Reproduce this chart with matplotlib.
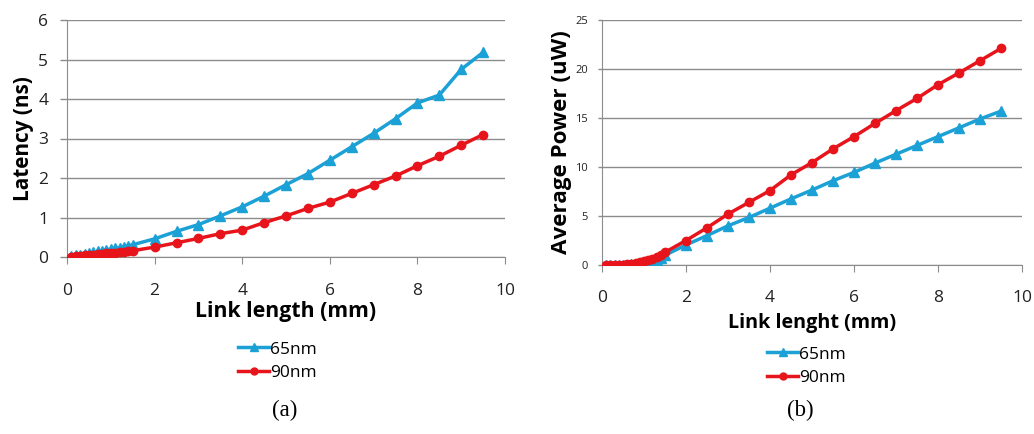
import matplotlib
matplotlib.use("Agg")
import matplotlib.pyplot as plt
from matplotlib.lines import Line2D

length = [0.1, 0.2, 0.3, 0.4, 0.5, 0.6, 0.7, 0.8, 0.9, 1.0, 1.1, 1.2, 1.3, 1.4, 1.5,
          2.0, 2.5, 3.0, 3.5, 4.0, 4.5, 5.0, 5.5, 6.0, 6.5, 7.0, 7.5, 8.0, 8.5, 9.0, 9.5]

lat_65 = [0.02, 0.04, 0.06, 0.08, 0.10, 0.12, 0.14, 0.16, 0.18, 0.20, 0.22, 0.24, 0.26, 0.28, 0.31,
          0.46, 0.65, 0.82, 1.04, 1.27, 1.54, 1.83, 2.11, 2.45, 2.79, 3.13, 3.50, 3.90, 4.10, 4.75, 5.18]
lat_90 = [0.01, 0.02, 0.03, 0.04, 0.05, 0.06, 0.07, 0.08, 0.09, 0.10, 0.11, 0.12, 0.13, 0.14, 0.16,
          0.25, 0.36, 0.47, 0.59, 0.68, 0.87, 1.04, 1.23, 1.39, 1.61, 1.83, 2.05, 2.31, 2.55, 2.83, 3.10]

pow_65 = [0.0, 0.0, 0.0, 0.0, 0.01, 0.03, 0.06, 0.10, 0.16, 0.23, 0.32, 0.43, 0.56, 0.75, 1.0,
          2.05, 3.0, 4.0, 4.85, 5.8, 6.75, 7.65, 8.6, 9.45, 10.4, 11.3, 12.2, 13.1, 14.0, 14.9, 15.7]
pow_90 = [0.05, 0.03, 0.02, 0.03, 0.05, 0.08, 0.13, 0.20, 0.30, 0.40, 0.52, 0.65, 0.80, 1.0, 1.3,
          2.5, 3.8, 5.2, 6.4, 7.6, 9.2, 10.45, 11.85, 13.1, 14.45, 15.75, 17.0, 18.4, 19.6, 20.85, 22.1]

series_labels = ["65nm", "90nm"]

BLUE = "#1BA1D6"
RED = "#E8141B"
GRID = "#8C8C8C"
FONT = ["Open Sans", "DejaVu Sans"]

fig = plt.figure(figsize=(10.34, 4.34), dpi=100)
W, H = 1034, 434


def ax_rect(x0, y0, x1, y1):
    return [x0 / W, 1 - y1 / H, (x1 - x0) / W, (y1 - y0) / H]


def style(ax, ymax, ystep, ytick_fs, ylen, ypad, xpad):
    ax.set_xlim(0, 10)
    ax.set_ylim(0, ymax)
    ax.set_xticks(range(0, 11, 2))
    ax.set_yticks([i * ystep for i in range(int(ymax / ystep) + 1)])
    ax.yaxis.grid(True, color=GRID, lw=1.0)
    ax.set_axisbelow(True)
    for s in ["top", "right"]:
        ax.spines[s].set_visible(False)
    ax.spines["left"].set_color(GRID)
    ax.spines["bottom"].set_color(GRID)
    ax.tick_params(axis="y", length=ylen, width=1.0, pad=ypad,
                   labelsize=ytick_fs, labelcolor="#222222")
    ax.tick_params(axis="y", color=GRID)
    ax.tick_params(axis="x", length=5, direction="out", pad=xpad,
                   labelsize=12.5, labelcolor="#222222")
    ax.tick_params(axis="x", color=GRID)
    for lab in ax.get_xticklabels() + ax.get_yticklabels():
        lab.set_family(FONT)


def fit(text, target_px, vertical=False):
    r = fig.canvas.get_renderer()
    bb = text.get_window_extent(r)
    cur = bb.height if vertical else bb.width
    text.set_fontsize(text.get_fontsize() * target_px / cur)


# (a) latency
ax1 = fig.add_axes(ax_rect(67, 20, 505, 257))
ax1.plot(length, lat_65, color=BLUE, lw=2.5, marker="^", ms=7, zorder=3)
ax1.plot(length, lat_90, color=RED, lw=2.5, marker="o", ms=6, zorder=4)
style(ax1, 6, 1, 12.5, 5, 8.5, 14)
yl1 = ax1.set_ylabel("Latency (ns)", fontsize=13, fontweight="bold", family=FONT, va="center")
ax1.yaxis.set_label_coords(-0.100, 0.5)
xl1 = ax1.set_xlabel("Link length (mm)", fontsize=13, fontweight="bold", family=FONT, va="center")
ax1.xaxis.set_label_coords(0.50, (257 - 312) / 237)

# (b) power
ax2 = fig.add_axes(ax_rect(602, 20, 1022, 265))
ax2.plot(length, pow_65, color=BLUE, lw=2.5, marker="^", ms=7, zorder=3)
ax2.plot(length, pow_90, color=RED, lw=2.5, marker="o", ms=6, zorder=4)
style(ax2, 25, 5, 8.0, 3, 7, 13)
yl2 = ax2.set_ylabel("Average Power (uW)", fontsize=13, fontweight="bold", family=FONT, va="center")
ax2.yaxis.set_label_coords((561 - 602) / 420, 0.5)
xl2 = ax2.set_xlabel("Link lenght (mm)", fontsize=13, fontweight="bold", family=FONT, va="center")
ax2.xaxis.set_label_coords(0.50, (265 - 323) / 245)

fig.canvas.draw()
fit(yl1, 124, vertical=True)
fit(xl1, 180)
fit(yl2, 222, vertical=True)
fit(xl2, 168)

handles = [Line2D([], [], color=BLUE, lw=2.5, marker="^", ms=6),
           Line2D([], [], color=RED, lw=2.5, marker="o", ms=5)]

for x0, yc in [(238, 361), (767, 366)]:
    fig.legend(handles, series_labels, loc="center left",
               bbox_to_anchor=(x0 / W, 1 - yc / H), frameon=False, handlelength=1.8,
               handletextpad=0.05, labelspacing=0.4, borderpad=0, borderaxespad=0,
               prop={"family": FONT, "size": 12.5})

fig.text(285 / W, 1 - 410 / H, "(a)", ha="center", va="center",
         family=["Liberation Serif", "DejaVu Serif"], fontsize=16.5)
fig.text(800 / W, 1 - 410 / H, "(b)", ha="center", va="center",
         family=["Liberation Serif", "DejaVu Serif"], fontsize=16.5)

fig.savefig("out.png", dpi=100)
